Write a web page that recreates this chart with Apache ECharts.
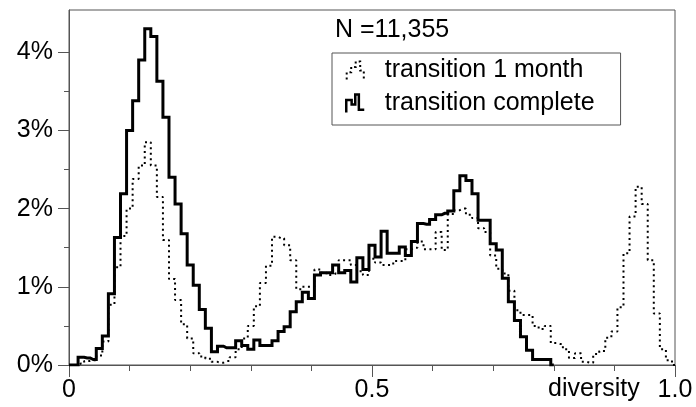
<!DOCTYPE html>
<html>
<head>
<meta charset="utf-8">
<script src="https://cdn.jsdelivr.net/npm/echarts@6/dist/echarts.min.js"></script>
<style>
html,body{margin:0;padding:0;background:#fff;}
#chart{width:696px;height:407px;}
</style>
</head>
<body>
<div id="chart"></div>
<script>
// Bin centers (diversity)
const binCenters = [0.00,0.01,0.02,0.03,0.04,0.05,0.06,0.07,0.08,0.09,0.10,0.11,0.12,0.13,0.14,0.15,0.16,0.17,0.18,0.19,0.20,0.21,0.22,0.23,0.24,0.25,0.26,0.27,0.28,0.29,0.30,0.31,0.32,0.33,0.34,0.35,0.36,0.37,0.38,0.39,0.40,0.41,0.42,0.43,0.44,0.45,0.46,0.47,0.48,0.49,0.50,0.51,0.52,0.53,0.54,0.55,0.56,0.57,0.58,0.59,0.60,0.61,0.62,0.63,0.64,0.65,0.66,0.67,0.68,0.69,0.70,0.71,0.72,0.73,0.74,0.75,0.76,0.77,0.78,0.79,0.80,0.81,0.82,0.83,0.84,0.85,0.86,0.87,0.88,0.89,0.90,0.91,0.92,0.93,0.94,0.95,0.96,0.97,0.98,0.99,1.00];

// transition complete (%)
const transitionComplete = [0,0,0.1,0.09,0.07,0.21,0.37,0.91,1.63,2.19,
  3.0,3.38,3.9,4.3,4.2,3.63,3.17,2.4,2.06,1.68,
  1.28,1.02,0.71,0.47,0.17,0.24,0.22,0.22,0.31,0.25,
  0.2,0.32,0.25,0.25,0.31,0.43,0.49,0.68,0.81,0.93,
  0.85,1.15,1.18,1.18,1.28,1.18,1.21,1.06,1.37,1.22,
  1.53,1.38,1.71,1.43,1.43,1.51,1.4,1.58,1.81,1.8,
  1.86,1.92,1.94,1.97,2.23,2.42,2.36,2.19,1.85,1.85,
  1.55,1.47,1.11,0.81,0.57,0.36,0.19,0.07,0.07,0.07,
  0];

// transition 1 month (%)
const transition1Month = [0,0,0.02,0.05,0.06,0.12,0.3,0.77,1.25,1.65,
  2.0,2.38,2.55,2.85,2.55,2.15,1.6,1.1,0.83,0.52,
  0.34,0.15,0.11,0.08,0.04,0.03,0.05,0.1,0.2,0.34,
  0.5,0.75,1.05,1.27,1.64,1.62,1.53,1.34,0.97,1.0,
  1.0,1.22,1.18,1.15,1.17,1.34,1.34,1.28,1.2,1.15,
  1.36,1.31,1.28,1.28,1.33,1.33,1.48,1.5,1.58,1.48,
  1.48,1.7,1.47,1.93,1.98,2.0,1.92,1.88,1.75,1.7,
  1.4,1.23,1.17,0.95,0.7,0.64,0.64,0.5,0.46,0.5,
  0.28,0.27,0.2,0.09,0.15,0.04,0.03,0.14,0.18,0.35,
  0.43,0.74,1.43,1.9,2.28,2.06,1.34,0.66,0.2,0.06,
  0];

const seriesNames = ['transition 1 month', 'transition complete'];
const yMajorTicks = [0, 1, 2, 3, 4];
const yMinorTicks = [0.5, 1.5, 2.5, 3.5];
const sampleLabel = 'N =11,355';
const xName = 'diversity';

const FONT = 'Liberation Sans, Arial, Helvetica, sans-serif';
const AXIS = '#555';

const chart = echarts.init(document.getElementById('chart'), null, {renderer: 'canvas'});

const pairs = (vals) => vals.map((v, i) => [binCenters[i], v]);

const option = {
  animation: false,
  backgroundColor: '#fff',
  textStyle: {fontFamily: FONT},
  title: {
    text: sampleLabel,
    left: 335, top: 18, padding: 0,
    textStyle: {fontFamily: FONT, fontSize: 25, fontWeight: 'normal', color: '#000', lineHeight: 25}
  },
  legend: {
    orient: 'vertical',
    left: 332, top: 53,
    padding: [5, 26, 9, 13],
    itemGap: 8,
    itemWidth: 25, itemHeight: 18,
    borderColor: AXIS, borderWidth: 1,
    backgroundColor: '#fff',
    textStyle: {fontFamily: FONT, fontSize: 25, color: '#000', lineHeight: 25, padding: [0, 0, 0, 12]},
    data: [
      {name: seriesNames[0], icon: 'path://M0,20 L0,12 L5,12 L5,6 L10,6 L10,0 L15,0 L15,10 L19,10 L19,20',
        itemStyle: {color: 'rgba(0,0,0,0)', borderColor: '#000', borderWidth: 2, borderType: [2, 3]}},
      {name: seriesNames[1], icon: 'path://M0,20 L0,6 L6,6 L6,11 L10,11 L10,0 L14,0 L14,17 L20,17',
        itemStyle: {color: 'rgba(0,0,0,0)', borderColor: '#000', borderWidth: 2.5}}
    ]
  },
  grid: {
    left: 69, right: 21, top: 10, bottom: 42,
    show: true, borderColor: AXIS, borderWidth: 1, backgroundColor: 'transparent'
  },
  xAxis: [
    {
      type: 'value', min: 0, max: 1, interval: 0.1,
      axisLine: {show: true, lineStyle: {color: AXIS, width: 1}},
      axisTick: {show: true, length: 6, lineStyle: {color: AXIS}},
      axisLabel: {show: false},
      splitLine: {show: false}
    },
    {
      type: 'value', min: 0, max: 1, interval: 0.5, position: 'bottom',
      axisLine: {show: false},
      axisTick: {show: true, length: 12, lineStyle: {color: AXIS}},
      axisLabel: {
        show: true, margin: 13, fontSize: 25, color: '#000', fontFamily: FONT,
        formatter: (v) => (v === 0 ? '0' : v.toFixed(1))
      },
      splitLine: {show: false}
    }
  ],
  yAxis: [
    {
      type: 'value', min: 0, max: 4.54,
      axisLine: {show: true, lineStyle: {color: AXIS, width: 1}},
      axisTick: {show: true, length: 11, customValues: yMajorTicks, lineStyle: {color: AXIS}},
      axisLabel: {
        show: true, customValues: yMajorTicks, margin: 16, fontSize: 25, color: '#000', fontFamily: FONT,
        formatter: (v) => v + '%'
      },
      splitLine: {show: false}
    },
    {
      type: 'value', min: 0, max: 4.54, position: 'left',
      axisLine: {show: false},
      axisTick: {show: true, length: 5, customValues: yMinorTicks, lineStyle: {color: AXIS}},
      axisLabel: {show: false},
      splitLine: {show: false}
    }
  ],
  graphic: [
    {
      type: 'text', left: 548, top: 377,
      style: {text: xName, fontSize: 25, fontFamily: FONT, fill: '#000', lineHeight: 25}
    }
  ],
  series: [
    {
      name: seriesNames[0], type: 'line', step: 'middle',
      xAxisIndex: 0, yAxisIndex: 0,
      data: pairs(transition1Month),
      showSymbol: false, symbol: 'none',
      lineStyle: {color: '#000', width: 2, type: [2, 3.5]},
      itemStyle: {color: '#000'},
      z: 3
    },
    {
      name: seriesNames[1], type: 'line', step: 'middle',
      xAxisIndex: 0, yAxisIndex: 0,
      data: pairs(transitionComplete),
      showSymbol: false, symbol: 'none',
      lineStyle: {color: '#000', width: 3, join: 'miter'},
      itemStyle: {color: '#000'},
      z: 4
    }
  ]
};
chart.setOption(option);
</script>
</body>
</html>
